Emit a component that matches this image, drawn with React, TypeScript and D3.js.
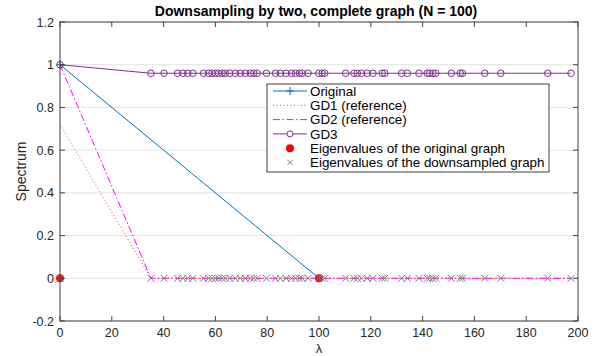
import React from "react";
import * as d3 from "d3";

const xTicks = [0, 20, 40, 60, 80, 100, 120, 140, 160, 180, 200];
const yTicks = [-0.2, 0, 0.2, 0.4, 0.6, 0.8, 1, 1.2];
const yTickLabels = ["-0.2", "0", "0.2", "0.4", "0.6", "0.8", "1", "1.2"];

// eigenvalues of the original complete graph (N = 100)
const originalEigs = [0, 100];
const originalSpectrum = [1, 0];

// eigenvalues of the downsampled graph
const downEigs = [
  0, 35.1, 40.2, 45.4, 47.5, 49.3, 51.3, 55.4, 57.4, 58.7, 60.0, 61.2, 62.6, 63.8,
  65.5, 67.7, 69.6, 71.6, 73.5, 74.8, 76.1, 79.7, 83.2, 85.1, 87.3, 89.4, 90.9,
  92.5, 93.5, 95.8, 99.9, 101.2, 102.2, 110.3, 113.5, 114.8, 116.4, 118.6, 120.8,
  124.4, 125.4, 131.9, 134.1, 138.6, 141.8, 142.7, 144.0, 145.1, 151.1, 154.5,
  155.4, 164.0, 170.2, 188.3, 197.3,
];
const gd1First = 0.72;
const gd2First = 1;
const gd3First = 1;
const gd3Rest = 0.96;
const gd1 = downEigs.map((_, i) => (i === 0 ? gd1First : 0));
const gd2 = downEigs.map((_, i) => (i === 0 ? gd2First : 0));
const gd3 = downEigs.map((_, i) => (i === 0 ? gd3First : gd3Rest));

const legendLabels = [
  "Original",
  "GD1 (reference)",
  "GD2 (reference)",
  "GD3",
  "Eigenvalues of the original graph",
  "Eigenvalues of the downsampled graph",
];

const W = 604;
const H = 356;
const L = 60, R = 578, T = 22, B = 321;
const FONT = "'Liberation Sans', Arial, Helvetica, sans-serif";
const AX = "#404040";

const C_ORIG = "#0072BD";
const C_GD1 = "#D95319";
const C_GD2 = "#FF00FF";
const C_GD3 = "#7E2F8E";
const C_RED = "#FF0000";
const C_GRAY = "#808080";

export default function App() {
  const x = d3.scaleLinear().domain([0, 200]).range([L, R]);
  const y = d3.scaleLinear().domain([-0.2, 1.2]).range([B, T]);
  const line = d3
    .line<[number, number]>()
    .x((d) => x(d[0]))
    .y((d) => y(d[1]));

  const origPts = originalEigs.map((e, i) => [e, originalSpectrum[i]] as [number, number]);
  const gd1Pts = downEigs.map((e, i) => [e, gd1[i]] as [number, number]);
  const gd2Pts = downEigs.map((e, i) => [e, gd2[i]] as [number, number]);
  const gd3Pts = downEigs.map((e, i) => [e, gd3[i]] as [number, number]);

  const cross = (cx: number, cy: number, s: number, color: string, key: any) => (
    <g key={key} stroke={color} strokeWidth={1}>
      <line x1={cx - s} y1={cy - s} x2={cx + s} y2={cy + s} />
      <line x1={cx - s} y1={cy + s} x2={cx + s} y2={cy - s} />
    </g>
  );
  const plus = (cx: number, cy: number, s: number, color: string, key: any) => (
    <g key={key} stroke={color} strokeWidth={1}>
      <line x1={cx - s} y1={cy} x2={cx + s} y2={cy} />
      <line x1={cx} y1={cy - s} x2={cx} y2={cy + s} />
    </g>
  );

  // legend layout
  const lgX0 = 267, lgX1 = 549, lgY0 = 84, lgY1 = 172;
  const rowY = (i: number) => 91 + i * 14.3;
  const sX0 = 273, sX1 = 307, sMid = 290, tX = 310;

  return (
    <svg width={W} height={H} style={{ position: "absolute", left: 0, top: 0 }} fontFamily={FONT}>
      <rect x={0} y={0} width={W} height={H} fill="#fff" />
      {/* grid */}
      {yTicks.map((t) => (
        <line key={"g" + t} x1={L} x2={R} y1={y(t)} y2={y(t)} stroke="#e3e3e3" strokeWidth={1} />
      ))}
      {/* series */}
      <path d={line(origPts) || ""} fill="none" stroke={C_ORIG} strokeWidth={1} />
      {origPts.map((p, i) => plus(x(p[0]), y(p[1]), 4, C_ORIG, "op" + i))}
      <path d={line(gd1Pts) || ""} fill="none" stroke={C_GD1} strokeWidth={1} strokeDasharray="1,2.5" />
      <path d={line(gd2Pts) || ""} fill="none" stroke={C_GD2} strokeWidth={1} strokeDasharray="7,2.5,1.5,2.5" />
      <path d={line(gd3Pts) || ""} fill="none" stroke={C_GD3} strokeWidth={1} />
      {gd3Pts.map((p, i) => (
        <circle key={"c" + i} cx={x(p[0])} cy={y(p[1])} r={3.3} fill="none" stroke={C_GD3} strokeWidth={1} />
      ))}
      {originalEigs.map((e, i) => (
        <circle key={"r" + i} cx={x(e)} cy={y(0)} r={4} fill={C_RED} />
      ))}
      {downEigs.map((e, i) => cross(x(e), y(0), 3.5, C_GRAY, "x" + i))}

      {/* axes box */}
      <rect x={L} y={T} width={R - L} height={B - T} fill="none" stroke={AX} strokeWidth={1} />
      {xTicks.map((t) => (
        <g key={"xt" + t}>
          <line x1={x(t)} x2={x(t)} y1={B} y2={B - 5} stroke={AX} />
          <line x1={x(t)} x2={x(t)} y1={T} y2={T + 5} stroke={AX} />
          <text x={x(t)} y={B + 16} textAnchor="middle" fontSize={12.5} fill="#262626">
            {String(t)}
          </text>
        </g>
      ))}
      {yTicks.map((t, i) => (
        <g key={"yt" + t}>
          <line x1={L} x2={L + 5} y1={y(t)} y2={y(t)} stroke={AX} />
          <line x1={R} x2={R - 5} y1={y(t)} y2={y(t)} stroke={AX} />
          <text x={L - 6} y={y(t) + 4.5} textAnchor="end" fontSize={12.5} fill="#262626">
            {yTickLabels[i]}
          </text>
        </g>
      ))}
      <text x={(L + R) / 2 - 3} y={T - 6} textAnchor="middle" fontSize={14} fontWeight="bold" fill="#000">
        Downsampling by two, complete graph (N = 100)
      </text>
      <text x={(L + R) / 2} y={B + 32} textAnchor="middle" fontSize={13} fill="#262626">
        λ
      </text>
      <text transform={`translate(${26},${(T + B) / 2}) rotate(-90)`} textAnchor="middle" fontSize={14} fill="#262626">
        Spectrum
      </text>

      {/* legend */}
      <rect x={lgX0} y={lgY0} width={lgX1 - lgX0} height={lgY1 - lgY0} fill="#fff" stroke={AX} strokeWidth={1} />
      <line x1={sX0} x2={sX1} y1={rowY(0)} y2={rowY(0)} stroke={C_ORIG} />
      {plus(sMid, rowY(0), 4, C_ORIG, "lp")}
      <line x1={sX0} x2={sX1} y1={rowY(1)} y2={rowY(1)} stroke={C_GD1} strokeDasharray="1,2.5" />
      <line x1={sX0} x2={sX1} y1={rowY(2)} y2={rowY(2)} stroke={C_GD2} strokeDasharray="7,2.5,1.5,2.5" />
      <line x1={sX0} x2={sX1} y1={rowY(3)} y2={rowY(3)} stroke={C_GD3} />
      <circle cx={sMid} cy={rowY(3)} r={3} fill="#fff" stroke={C_GD3} />
      <circle cx={sMid} cy={rowY(4)} r={4} fill={C_RED} />
      {cross(sMid, rowY(5), 2.5, C_GRAY, "lx")}
      {legendLabels.map((s, i) => (
        <text key={"lt" + i} x={tX} y={rowY(i) + 4.8} fontSize={13.4} fill="#000">
          {s}
        </text>
      ))}
    </svg>
  );
}
